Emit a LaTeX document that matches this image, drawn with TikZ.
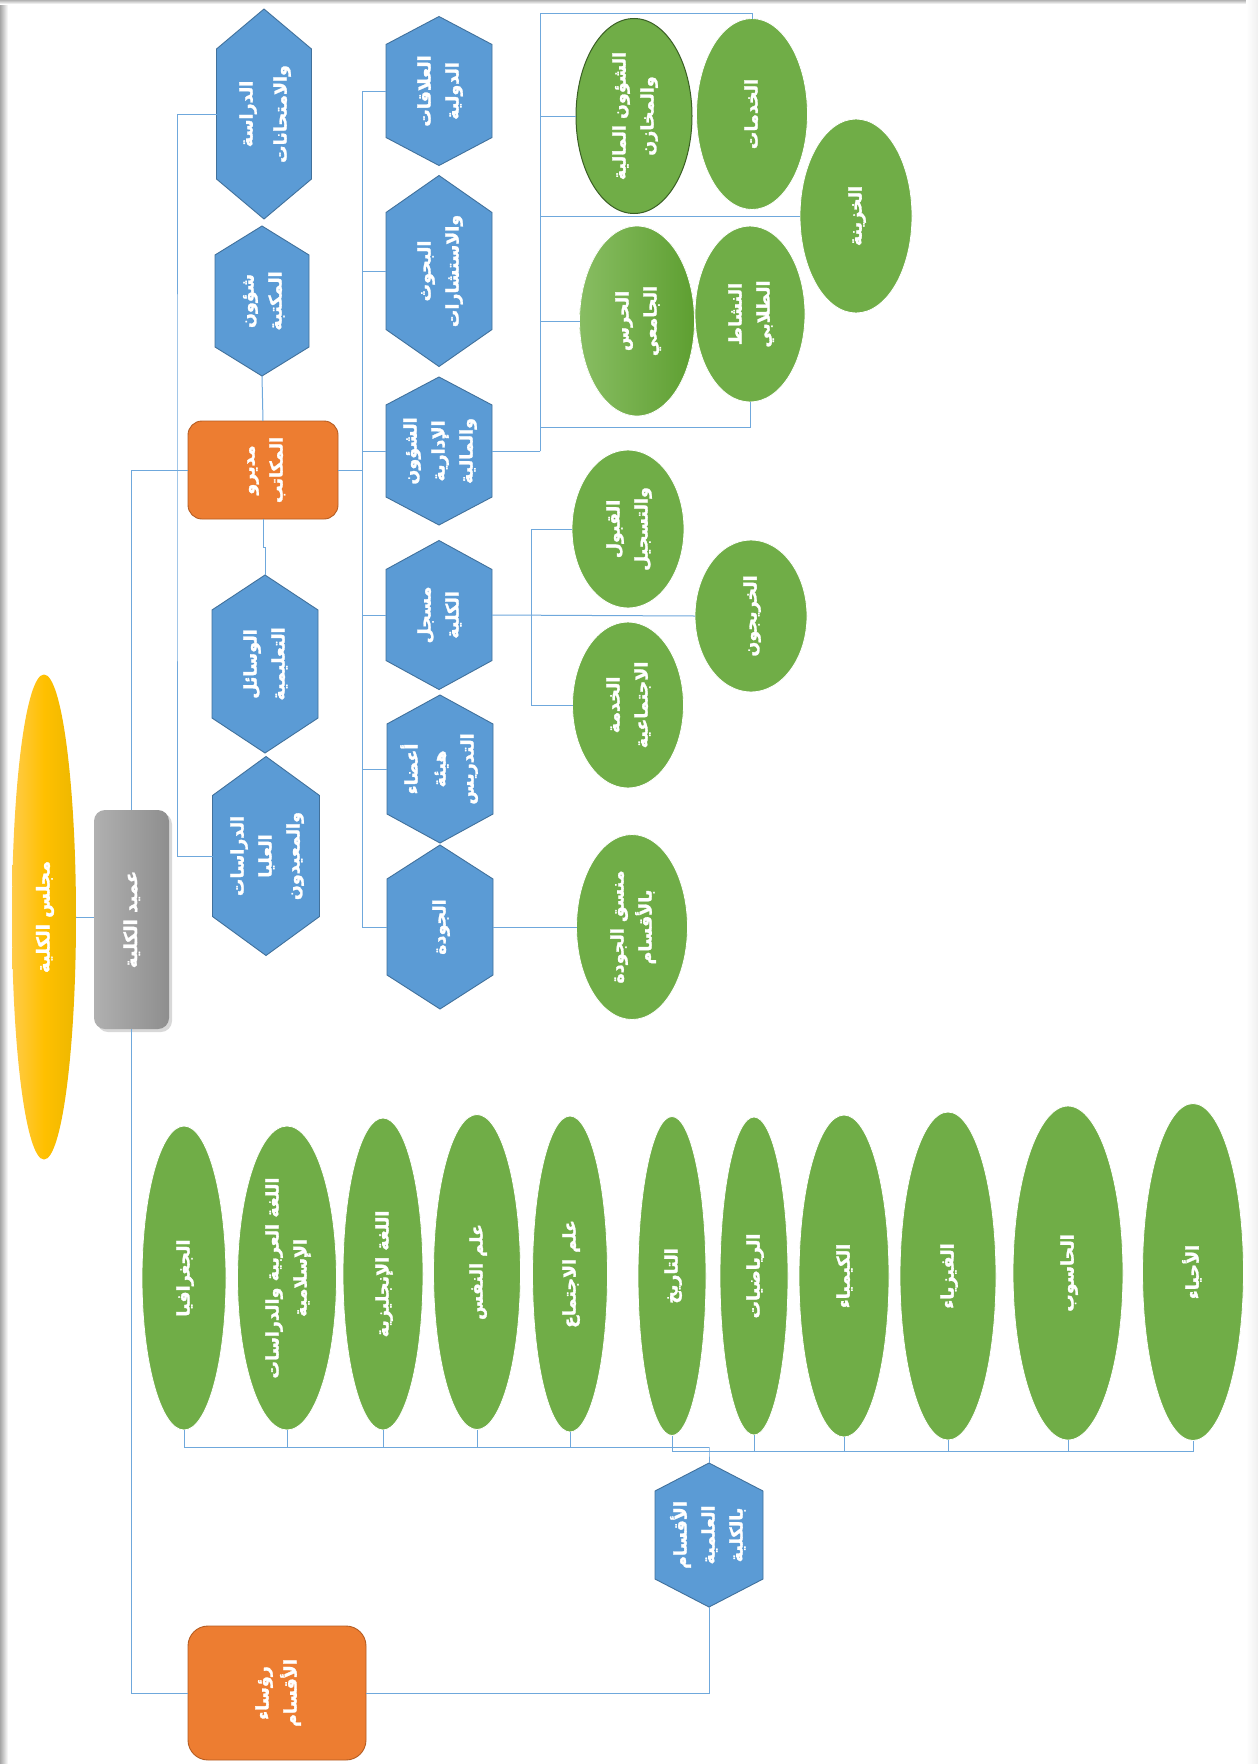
\documentclass[tikz,border=0pt]{standalone}
\usepackage{fontspec}
\usetikzlibrary{shapes.geometric,shadows}
\TeXXeTstate=1
\newfontfamily\arabicfont[Script=Arabic, FakeBold=1.6]{DejaVu Sans}
\definecolor{hexblue}{HTML}{5B9BD5}
\definecolor{hexedge}{HTML}{41719C}
\definecolor{leafgreen}{HTML}{70AD47}
\definecolor{deepgreen}{HTML}{3A5F24}
\definecolor{mgrorange}{HTML}{ED7D31}
\definecolor{mgredge}{HTML}{B55D22}
\definecolor{linkblue}{HTML}{6FA8DC}
\definecolor{goldlight}{HTML}{FFCB4A}
\definecolor{goldmid}{HTML}{FFC000}
\definecolor{golddark}{HTML}{ECB700}
\definecolor{greylight}{HTML}{B0B0B0}
\definecolor{greydark}{HTML}{8E8E8E}
\definecolor{guardlight}{HTML}{88BD62}
\definecolor{guarddark}{HTML}{5E9F31}
% one right-to-left line
\newcommand\ar[1]{\beginR #1\endR}
% label turned a quarter turn, lines stacked
\newcommand\vt[2][17.5]{\rotatebox{90}{\arabicfont\bfseries\fontsize{#1}{28}\selectfont\begin{tabular}{@{}c@{}}#2\end{tabular}}}
% hexagon: name, cx, cy, width, height, slant, label
\newcommand\hexa[7]{%
  \path[hexshape] (#2,#3-#5/2) -- (#2+#4/2,#3-#5/2+#6) -- (#2+#4/2,#3+#5/2-#6)
     -- (#2,#3+#5/2) -- (#2-#4/2,#3+#5/2-#6) -- (#2-#4/2,#3-#5/2+#6) -- cycle;
  \node[hexanchor, minimum width=#4, minimum height=#5] (#1) at (#2,#3) {\vt{#7}};
}
\tikzset{
  hexshape/.style={fill=hexblue, draw=hexedge, line width=0.9pt},
  hexanchor/.style={rectangle, inner sep=0pt, outer sep=0pt, text=white},
  leaf/.style={ellipse, fill=leafgreen, draw=white, line width=0.8pt, inner sep=0pt, outer sep=0pt, text=white},
  mgr/.style={rectangle, rounded corners=14pt, fill=mgrorange, draw=mgredge, line width=0.9pt, inner sep=0pt, outer sep=0pt, text=white},
  link/.style={draw=linkblue, line width=1pt},
}
\begin{document}
\begin{tikzpicture}[x=1pt,y=-1pt]
\useasboundingbox (0,0) rectangle (1258,1764);
\fill[white] (0,0) rectangle (1258,1764);
% page edge shading
\shade[left color=black!35, right color=white] (0,0) rectangle (8,1764);
\shade[top color=black!30, bottom color=white] (0,0) rectangle (1258,4);
\shade[left color=white, right color=black!6] (1246,0) rectangle (1258,1764);

% council and dean
\node[ellipse, inner sep=0pt, outer sep=0pt, minimum width=64, minimum height=485,
      left color=goldlight, right color=golddark, middle color=goldmid, text=white] (council) at (44,917)
      {\vt[18]{\ar{مجلس الكلية}}};
\node[rectangle, rounded corners=11pt, inner sep=0pt, outer sep=0pt, minimum width=75, minimum height=219,
      left color=greylight, right color=greydark, text=white,
      drop shadow={shadow xshift=3pt, shadow yshift=-3pt, opacity=0.3}] (dean) at (131.5,919.5)
      {\vt[18]{\ar{عميد الكلية}}};

% office managers and department heads
\node[mgr, minimum width=150, minimum height=98] (mudiru) at (263,470) {\vt{\ar{مديرو}\\\ar{المكاتب}}};
\node[mgr, rounded corners=20pt, minimum width=178, minimum height=134] (ruasa) at (277,1693) {\vt{\ar{رؤساء}\\\ar{الأقسام}}};

% left column
\hexa{dirasa}{264}{114}{95}{210}{40}{\ar{الدراسة}\\[6pt]\ar{والامتحانات}}
\hexa{maktaba}{262}{301}{94}{150}{29}{\ar{شؤون}\\\ar{المكتبة}}
\hexa{wasail}{265}{664}{106}{178}{35}{\ar{الوسائل}\\\ar{التعليمية}}
\hexa{ulya}{266}{856}{107}{199}{39}{\ar{الدراسات}\\\ar{العليا}\\\ar{والمعيدون}}

% right column
\hexa{alaqat}{439}{91}{106}{149}{28}{\ar{العلاقات}\\\ar{الدولية}}
\hexa{buhuth}{439}{271}{106}{191}{37}{\ar{البحوث}\\\ar{والاستشارات}}
\hexa{shuun}{439}{451}{106}{148}{28}{\ar{الشؤون}\\\ar{الإدارية}\\\ar{والمالية}}
\hexa{musajjil}{439}{615}{106}{149}{29}{\ar{مسجل}\\\ar{الكلية}}
\hexa{adaa}{440}{769}{106}{148}{29}{\ar{أعضاء}\\\ar{هيئة}\\\ar{التدريس}}
\hexa{jawda}{440}{927}{106}{164}{34}{\ar{الجودة}}
\hexa{aqsam}{709}{1535}{108}{144}{28}{\ar{الأقسام}\\\ar{العلمية}\\\ar{بالكلية}}

% administrative and financial units
\node[leaf, draw=deepgreen, line width=1pt, minimum width=116, minimum height=195] (maliya) at (634,116) {\vt{\ar{الشؤون المالية}\\\ar{والمخازن}}};
\node[leaf, minimum width=111, minimum height=191] (khadamat) at (752,114) {\vt{\ar{الخدمات}}};
\node[leaf, minimum width=112, minimum height=194] (khazina) at (856,216) {\vt{\ar{الخزينة}}};
\node[leaf, left color=guardlight, right color=guarddark, minimum width=115, minimum height=190] (haras) at (637,321) {\vt{\ar{الحرس}\\\ar{الجامعي}}};
\node[leaf, minimum width=110, minimum height=176] (nashat) at (750,314) {\vt{\ar{النشاط}\\\ar{الطلابي}}};

% registrar units
\node[leaf, minimum width=112, minimum height=158] (qabul) at (628,529) {\vt{\ar{القبول}\\\ar{والتسجيل}}};
\node[leaf, minimum width=112, minimum height=152] (khirrijun) at (751,616) {\vt{\ar{الخريجون}}};
\node[leaf, minimum width=111, minimum height=166] (khidma) at (628,705) {\vt{\ar{الخدمة}\\\ar{الاجتماعية}}};
\node[leaf, minimum width=111, minimum height=185] (munassiq) at (632,927) {\vt{\ar{منسق الجودة}\\\ar{بالأقسام}}};

% academic departments
\node[leaf, minimum width=84, minimum height=304] (d1) at (184,1278) {\vt{\ar{الجغرافيا}}};
\node[leaf, minimum width=99, minimum height=304] (d2) at (287,1278) {\vt{\ar{اللغة العربية والدراسات}\\\ar{الإسلامية}}};
\node[leaf, minimum width=80, minimum height=312] (d3) at (383,1274) {\vt{\ar{اللغة الإنجليزية}}};
\node[leaf, minimum width=87, minimum height=315] (d4) at (477,1272) {\vt{\ar{علم النفس}}};
\node[leaf, minimum width=75, minimum height=316] (d5) at (570,1274) {\vt{\ar{علم الاجتماع}}};
\node[leaf, minimum width=68, minimum height=319] (d6) at (672,1276) {\vt{\ar{التاريخ}}};
\node[leaf, minimum width=68, minimum height=318] (d7) at (754,1276) {\vt{\ar{الرياضيات}}};
\node[leaf, minimum width=90, minimum height=322] (d8) at (844,1276) {\vt{\ar{الكيمياء}}};
\node[leaf, minimum width=96, minimum height=328] (d9) at (948,1276) {\vt{\ar{الفيزياء}}};
\node[leaf, minimum width=110, minimum height=334] (d10) at (1068,1273) {\vt{\ar{الحاسوب}}};
\node[leaf, minimum width=101, minimum height=337] (d11) at (1193,1272) {\vt{\ar{الأحياء}}};

% junction points
\coordinate (lb) at (177,470);
\coordinate (rb) at (362,470);
\coordinate (sb) at (540,451);
\coordinate (kt) at (752,13);
\coordinate (nt) at (750,427);
\coordinate (mb) at (531,615);
\coordinate (jl) at (709,1447);
\coordinate (jr) at (709,1451);

% connectors
\draw[link] (council.east) -- (council.east -| dean.west);
\draw[link] (dean.north) |- (mudiru.west);
\draw[link] (dean.south) |- (ruasa.west);
\draw[link] (maktaba.south) -- (mudiru.north);
\draw[link] (mudiru.south) -- ++(0,28) -| (wasail.north);
\draw[link] (dirasa.west) -| (lb) |- (ulya.west);
\draw[link] (mudiru.east) -- (rb);
\foreach \h in {alaqat,buhuth,shuun,musajjil,adaa,jawda}
  \draw[link] (rb) |- (\h.west);
\draw[link] (shuun.east) -- (sb);
\draw[link] (sb) |- (kt) -- (khadamat.north);
\draw[link] (sb) |- (maliya.west);
\draw[link] (sb) |- (khazina.west);
\draw[link] (sb) |- (haras.west);
\draw[link] (sb) |- (nt) -- (nashat.south);
\draw[link] (musajjil.east) -- (khirrijun.west);
\draw[link] (mb) |- (qabul.west);
\draw[link] (mb) |- (khidma.west);
\draw[link] (jawda.east) -- (munassiq.west);
\foreach \d in {d1,d2,d3,d4,d5}
  \draw[link] (\d.south) |- (jl);
\foreach \d in {d6,d7,d8,d9,d10,d11}
  \draw[link] (\d.south) |- (jr);
\draw[link] (jl) -- (jr) -- (aqsam.north);
\draw[link] (aqsam.south) |- (ruasa.east);
\end{tikzpicture}
\end{document}
